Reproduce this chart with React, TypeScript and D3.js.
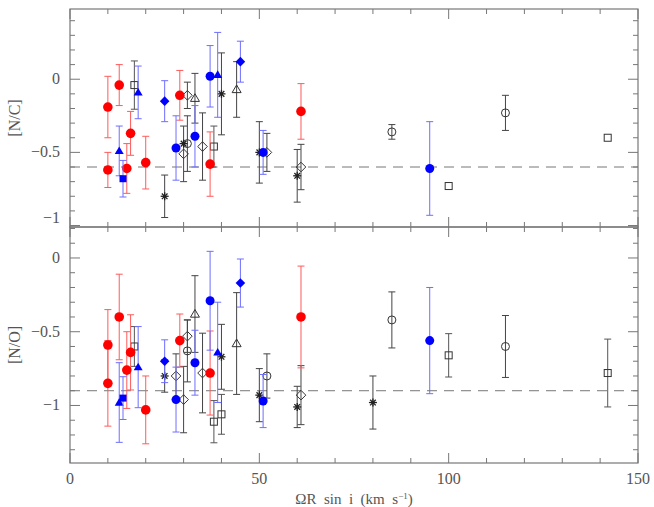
import * as d3 from "d3";

// [x, value, error], one array per symbol, per panel
const ncRedCircle = [[10, -0.19, 0.21], [10, -0.62, 0.12], [13, -0.04, 0.14], [16, -0.37, 0.15], [15, -0.61, 0.17], [20, -0.57, 0.18], [29, -0.11, 0.17], [37, -0.58, 0.22], [61, -0.22, 0.19]];
const ncBlueCircle = [[28, -0.47, 0.22], [33, -0.39, 0.21], [37, 0.02, 0.21], [51, -0.5, 0.15], [95, -0.61, 0.32]];
const ncBlueTriangle = [[13, -0.49, 0.17], [18, -0.09, 0.18], [39, 0.03, 0.29]];
const ncBlueSquare = [[14, -0.68, 0.125]];
const ncBlueDiamond = [[25, -0.15, 0.14], [45, 0.12, 0.14]];
const ncOpenSquare = [[17, -0.04, 0.165], [38, -0.46, 0.14], [100, -0.73, 0], [142, -0.4, 0]];
const ncOpenCircle = [[31, -0.44, 0.19], [85, -0.36, 0.05], [115, -0.23, 0.12]];
const ncOpenDiamond = [[31, -0.11, 0.09], [30, -0.51, 0.19], [35, -0.46, 0.23], [52, -0.5, 0.13], [61, -0.6, 0.155]];
const ncOpenTriangle = [[33, -0.13, 0.17], [44, -0.07, 0.19]];
const ncAsterisk = [[25, -0.8, 0.145], [30, -0.44, 0], [40, -0.1, 0.28], [50, -0.5, 0.21], [60, -0.66, 0.18]];

const noRedCircle = [[10, -0.59, 0.24], [10, -0.85, 0.29], [13, -0.4, 0.29], [16, -0.64, 0.255], [15, -0.76, 0.26], [20, -1.03, 0.23], [29, -0.56, 0.18], [37, -0.78, 0.285], [61, -0.4, 0.345]];
const noBlueCircle = [[28, -0.96, 0.22], [33, -0.71, 0.22], [37, -0.29, 0.335], [51, -0.97, 0.18], [95, -0.56, 0.36]];
const noBlueTriangle = [[13, -0.98, 0.27], [18, -0.74, 0.275], [39, -0.64, 0.34]];
const noBlueSquare = [[14, -0.95, 0.145]];
const noBlueDiamond = [[25, -0.7, 0.145], [45, -0.17, 0.163]];
const noOpenSquare = [[17, -0.6, 0.135], [38, -1.11, 0.143], [40, -1.06, 0.135], [100, -0.66, 0.147], [142, -0.78, 0.23]];
const noOpenCircle = [[31, -0.63, 0.21], [52, -0.8, 0.15], [85, -0.42, 0.19], [115, -0.6, 0.21]];
const noOpenDiamond = [[28, -0.8, 0.15], [30, -0.96, 0.225], [31, -0.53, 0.11], [35, -0.78, 0.27], [61, -0.93, 0.2]];
const noOpenTriangle = [[33, -0.38, 0.26], [44, -0.58, 0.345]];
const noAsterisk = [[25, -0.8, 0.11], [40, -0.67, 0.22], [50, -0.93, 0.18], [60, -1.01, 0.14], [80, -0.98, 0.18]];

const xTicks = [0, 50, 100, 150];
const ncRef = -0.6;
const noRef = -0.9;

const W = 654, H = 507;
const x = d3.scaleLinear().domain([0, 150]).range([70, 638]);

const panels = [
  { label: "[N/C]", y: d3.scaleLinear().domain([-1.01, 0.48]).range([227, 9]), ref: ncRef, major: [0, -0.5, -1], lift: { "-1": -8 },
    series: [ncOpenSquare, ncOpenCircle, ncOpenDiamond, ncOpenTriangle, ncAsterisk, ncRedCircle, ncBlueCircle, ncBlueTriangle, ncBlueSquare, ncBlueDiamond] },
  { label: "[N/O]", y: d3.scaleLinear().domain([-1.39, 0.21]).range([463, 227]), ref: noRef, major: [0, -0.5, -1], lift: {},
    series: [noOpenSquare, noOpenCircle, noOpenDiamond, noOpenTriangle, noAsterisk, noRedCircle, noBlueCircle, noBlueTriangle, noBlueSquare, noBlueDiamond] },
];

// style per series slot, same order as panel.series
const styles = [
  { shape: "square", fill: "none", stroke: "#333", bar: "#555" },
  { shape: "circle", fill: "none", stroke: "#333", bar: "#444", r: 4 },
  { shape: "diamond", fill: "none", stroke: "#333", bar: "#444" },
  { shape: "triangle", fill: "none", stroke: "#333", bar: "#444" },
  { shape: "asterisk", fill: "none", stroke: "#222", bar: "#444" },
  { shape: "circle", fill: "#ff0000", stroke: "none", bar: "#ff5a5a", r: 4.8 },
  { shape: "circle", fill: "#0000ff", stroke: "none", bar: "#6e6eff", r: 4.5 },
  { shape: "triangle", fill: "#0000ff", stroke: "none", bar: "#6e6eff" },
  { shape: "square", fill: "#0000ff", stroke: "none", bar: "#6e6eff" },
  { shape: "diamond", fill: "#0000ff", stroke: "none", bar: "#6e6eff" },
];

function Symbol({ cx, cy, s }: any) {
  const sw = 1;
  if (s.shape === "circle") return <circle cx={cx} cy={cy} r={s.r} fill={s.fill} stroke={s.stroke} strokeWidth={sw} />;
  if (s.shape === "square") return <rect x={cx - 3.5} y={cy - 3.5} width={7} height={7} fill={s.fill} stroke={s.stroke} strokeWidth={sw} />;
  if (s.shape === "diamond") {
    const d = 4.8;
    return <path d={`M${cx},${cy - d}L${cx + d},${cy}L${cx},${cy + d}L${cx - d},${cy}Z`} fill={s.fill} stroke={s.stroke} strokeWidth={sw} />;
  }
  if (s.shape === "triangle") {
    const d = 4.5;
    return <path d={`M${cx},${cy - d}L${cx + d},${cy + d * 0.7}L${cx - d},${cy + d * 0.7}Z`} fill={s.fill} stroke={s.stroke} strokeWidth={sw} />;
  }
  // asterisk
  const arms = d3.range(4).map((i) => (i * Math.PI) / 4);
  return (
    <g stroke={s.stroke} strokeWidth={1.3}>
      {arms.map((a, i) => (
        <line key={i} x1={cx - 4 * Math.cos(a)} y1={cy - 4 * Math.sin(a)} x2={cx + 4 * Math.cos(a)} y2={cy + 4 * Math.sin(a)} />
      ))}
      <circle cx={cx} cy={cy} r={1.6} fill="#222" stroke="none" />
    </g>
  );
}

const fmt = (v: number) => (v === 0 ? "0" : String(v).replace("-", "\u2212"));

export default function App() {
  const axis = "#777";
  const text = "#555";
  const font = "'Liberation Serif', 'DejaVu Serif', serif";
  const xMinor = d3.range(0, 151, 10);

  return (
    <svg width={W} height={H} style={{ position: "absolute", left: 0, top: 0, background: "#fff", fontFamily: font }}>
      {panels.map((p, pi) => {
        const [y0, y1] = p.y.range();
        const minor = d3.range(Math.ceil(p.y.domain()[0] * 10), Math.floor(p.y.domain()[1] * 10) + 1).map((v) => v / 10);
        return (
          <g key={pi}>
            {/* reference level */}
            <line x1={x(0)} x2={x(150)} y1={p.y(p.ref)} y2={p.y(p.ref)} stroke="#777" strokeDasharray="10,7" strokeWidth={1} />

            {/* y ticks, both sides */}
            {minor.map((v) => {
              const len = p.major.some((m) => Math.abs(m - v) < 1e-6) ? 10 : 5;
              return (
                <g key={v} stroke={axis}>
                  <line x1={x(0)} x2={x(0) + len} y1={p.y(v)} y2={p.y(v)} />
                  <line x1={x(150)} x2={x(150) - len} y1={p.y(v)} y2={p.y(v)} />
                </g>
              );
            })}
            {p.major.map((v) => (
              <text key={v} x={60} y={p.y(v) + ((p.lift as any)[String(v)] || 0) + 5} textAnchor="end" fontSize={16} fill={text}>
                {fmt(v)}
              </text>
            ))}

            {/* x ticks top and bottom of panel */}
            {xMinor.map((v) => {
              const len = v % 50 === 0 ? 10 : 5;
              return (
                <g key={v} stroke={axis}>
                  <line x1={x(v)} x2={x(v)} y1={y1} y2={y1 + len} />
                  <line x1={x(v)} x2={x(v)} y1={y0} y2={y0 - len} />
                </g>
              );
            })}

            <rect x={x(0)} y={y1} width={x(150) - x(0)} height={y0 - y1} fill="none" stroke={axis} strokeWidth={1.2} />

            <text transform={`translate(20,${(y0 + y1) / 2}) rotate(-90)`} textAnchor="middle" fontSize={16} fill={text}>
              {p.label}
            </text>

            {p.series.map((data, si) => {
              const s = styles[si];
              return (
                <g key={si}>
                  {data.map(([vx, vy, e], i) =>
                    e > 0 ? (
                      <g key={i} stroke={s.bar} strokeWidth={1}>
                        <line x1={x(vx)} x2={x(vx)} y1={p.y(vy + e)} y2={p.y(vy - e)} />
                        <line x1={x(vx) - 3.5} x2={x(vx) + 3.5} y1={p.y(vy + e)} y2={p.y(vy + e)} />
                        <line x1={x(vx) - 3.5} x2={x(vx) + 3.5} y1={p.y(vy - e)} y2={p.y(vy - e)} />
                      </g>
                    ) : null
                  )}
                  {data.map(([vx, vy], i) => (
                    <Symbol key={i} cx={x(vx)} cy={p.y(vy)} s={s} />
                  ))}
                </g>
              );
            })}
          </g>
        );
      })}

      {xTicks.map((v) => (
        <text key={v} x={x(v)} y={484} textAnchor="middle" fontSize={16} fill={text}>
          {v}
        </text>
      ))}
      <text x={(x(0) + x(150)) / 2} y={504} textAnchor="middle" fontSize={15} fill={text} style={{ whiteSpace: "pre" }}>
        {"ΩR  sin  i  (km  s"}
        <tspan dy={-5} fontSize={9}>−1</tspan>
        <tspan dy={5}>)</tspan>
      </text>
    </svg>
  );
}
